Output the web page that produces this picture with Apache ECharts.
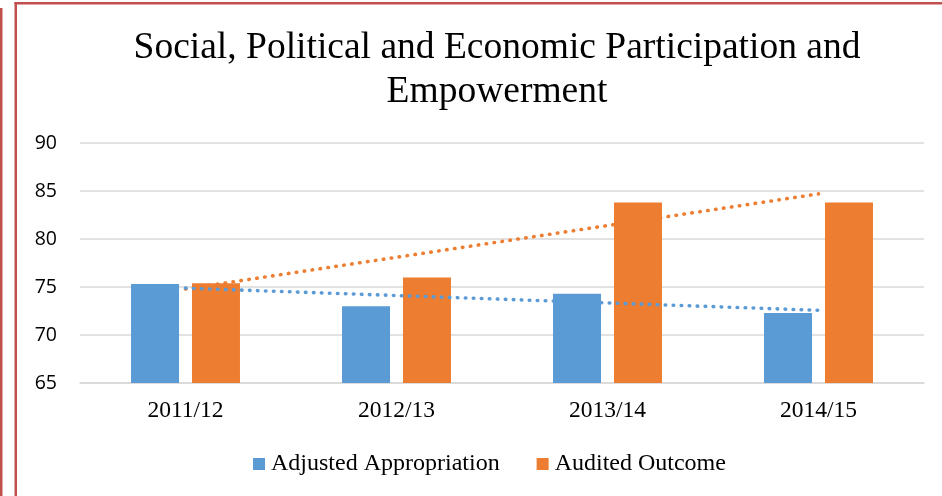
<!DOCTYPE html>
<html>
<head>
<meta charset="utf-8">
<script src="https://cdn.jsdelivr.net/npm/echarts@6/dist/echarts.min.js"></script>
<style>
  html, body { margin: 0; padding: 0; background: #fff; }
  #chart { width: 942px; height: 496px; }
</style>
</head>
<body>
<div id="chart"></div>
<script>
// Fiscal years on the category axis
const years = ['2011/12', '2012/13', '2013/14', '2014/15'];
// Spending figures per year
const adjustedAppropriation = [75.3, 73.0, 74.3, 72.3];
const auditedOutcome = [75.4, 76.0, 83.8, 83.8];
// Value axis ticks
const yTicks = [65, 70, 75, 80, 85, 90];

// Least-squares linear trend evaluated at each category position
function linearTrend(values) {
  const n = values.length;
  const xs = values.map((_, i) => i + 1);
  const mx = xs.reduce((a, b) => a + b, 0) / n;
  const my = values.reduce((a, b) => a + b, 0) / n;
  let sxy = 0, sxx = 0;
  for (let i = 0; i < n; i++) {
    sxy += (xs[i] - mx) * (values[i] - my);
    sxx += (xs[i] - mx) * (xs[i] - mx);
  }
  const slope = sxy / sxx;
  return xs.map(x => +(my + slope * (x - mx)).toFixed(3));
}

const BLUE = '#5b9bd5';
const ORANGE = '#ed7d31';
const FRAME = '#c0504d';
const SERIF = '"Liberation Serif", "Times New Roman", serif';

const chart = echarts.init(document.getElementById('chart'), null, { renderer: 'canvas' });

const dotted = (color) => ({
  color: color,
  width: 3.6,
  type: [0.5, 7.5],
  cap: 'round'
});

chart.setOption({
  animation: false,
  backgroundColor: '#ffffff',
  title: {
    text: 'Social, Political and Economic Participation and\nEmpowerment',
    left: 492,
    top: 21,
    textAlign: 'center',
    textStyle: {
      fontFamily: SERIF,
      fontSize: 37.5,
      fontWeight: 'normal',
      color: '#000',
      lineHeight: 44
    }
  },
  legend: {
    data: ['Adjusted Appropriation', 'Audited Outcome'],
    left: 253,
    top: 452,
    padding: 0,
    itemWidth: 12,
    itemHeight: 12,
    itemGap: 37,
    icon: 'rect',
    textStyle: { fontFamily: SERIF, fontSize: 24, color: '#000', padding: [0, 0, 0, 1] }
  },
  grid: { left: 80, right: 18, top: 143, bottom: 113, containLabel: false },
  xAxis: {
    type: 'category',
    data: years,
    axisLine: { show: true, lineStyle: { color: '#d9d9d9', width: 1.5 } },
    axisTick: { show: false },
    axisLabel: { fontFamily: SERIF, fontSize: 23.5, color: '#000', margin: 16 }
  },
  yAxis: {
    type: 'value',
    min: yTicks[0],
    max: yTicks[yTicks.length - 1],
    interval: 5,
    axisLine: { show: false },
    axisTick: { show: false },
    splitLine: { lineStyle: { color: '#d9d9d9', width: 1.5 } },
    axisLabel: { fontFamily: '"Open Sans", sans-serif', fontSize: 19.5, color: '#000', margin: 23 }
  },
  series: [
    {
      name: 'Adjusted Appropriation',
      type: 'bar',
      data: adjustedAppropriation,
      barWidth: 48,
      barGap: '27%',
      itemStyle: { color: BLUE },
      z: 2
    },
    {
      name: 'Audited Outcome',
      type: 'bar',
      data: auditedOutcome,
      barWidth: 48,
      itemStyle: { color: ORANGE },
      z: 2
    },
    {
      name: 'Audited Outcome trend',
      type: 'line',
      data: linearTrend(auditedOutcome),
      symbol: 'none',
      lineStyle: dotted(ORANGE),
      z: 5
    },
    {
      name: 'Adjusted Appropriation trend',
      type: 'line',
      data: linearTrend(adjustedAppropriation),
      symbol: 'none',
      lineStyle: dotted(BLUE),
      z: 6
    }
  ],
  graphic: [
    // outer left rule
    { type: 'rect', shape: { x: 0, y: 8, width: 2.5, height: 488 }, style: { fill: FRAME }, silent: true },
    // inner frame: left and top edges
    { type: 'rect', shape: { x: 14.5, y: 2, width: 2.5, height: 494 }, style: { fill: FRAME }, silent: true },
    { type: 'rect', shape: { x: 14.5, y: 2, width: 928, height: 2.5 }, style: { fill: FRAME }, silent: true }
  ]
});
</script>
</body>
</html>
